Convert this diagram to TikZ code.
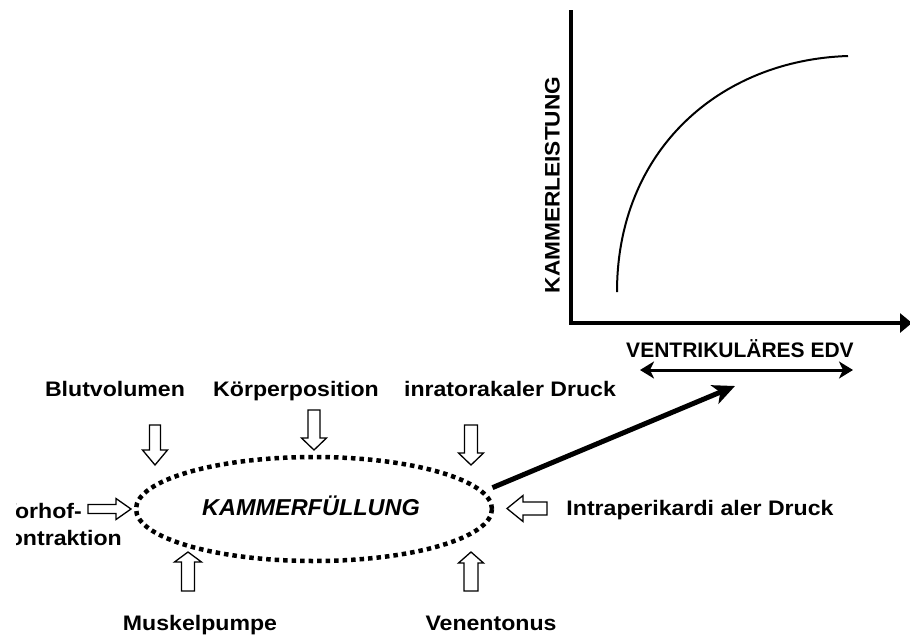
\documentclass[tikz,border=0pt]{standalone}
\usepackage{fontspec}
\setmainfont{Liberation Sans}
\usetikzlibrary{shapes.geometric,arrows.meta}
\newcommand\blockarr[6]{\draw[blockst,shift={(#1)},rotate=#2] (0,-#5) -- (#3-#4,-#5) -- (#3-#4,-#6) -- (#3,0) -- (#3-#4,#6) -- (#3-#4,#5) -- (0,#5) -- cycle;}
\begin{document}
\begin{tikzpicture}[x=1pt,y=-1pt,
  lbl/.style={font=\bfseries\fontsize{21}{25}\selectfont, inner sep=0pt, anchor=base, xscale=1.1},
  axlbl/.style={font=\bfseries\fontsize{21}{25}\selectfont, inner sep=0pt},
  blockst/.style={draw=black, line width=1.3pt, fill=white, line join=miter},
  dotline/.style={draw=black, line width=4.5pt, dash pattern=on 4.5pt off 4pt},
  bigarrow/.style={line width=5pt, -{Stealth[length=22pt,width=20pt,inset=6pt]}},
  axisline/.style={line width=4pt, line join=miter, -{Triangle[length=12pt,width=19pt]}},
  rangearrow/.style={line width=3pt, {Stealth[length=14pt,width=17pt,inset=4pt]}-{Stealth[length=14pt,width=17pt,inset=4pt]}}
]
\useasboundingbox (0,0) rectangle (910,635);
\clip (0,0) rectangle (910,635);

% graph
\coordinate (ytop) at (571,10);
\coordinate (orig) at (571,323);
\coordinate (xend) at (912,323);
\draw[axisline] (ytop) -- (orig) -- (xend);
\coordinate (cstart) at (617,292);
\coordinate (cend) at (848,56);
\draw[line width=2pt] (cstart) .. controls (617,150) and (720,60) .. (cend);
\node[axlbl, rotate=90, xscale=1.08] (yl) at (552.5,185) {KAMMERLEISTUNG};
\node[axlbl, anchor=base] (xl) at (740,357) {VENTRIKULÄRES EDV};
\coordinate (edvL) at (640,370);
\coordinate (edvR) at (853,370);
\draw[rangearrow] (edvL) -- (edvR);

% ellipse
\node[ellipse, dotline, minimum width=356pt, minimum height=104pt, inner sep=0pt] (kf) at (314,509) {};
\node[font=\bfseries\itshape\fontsize{23}{27}\selectfont, inner sep=0pt, anchor=base, xscale=1.02] (kft) at (311,515) {KAMMERFÜLLUNG};
\coordinate (edvtip) at (735,386);
\draw[bigarrow, shorten <=9pt] (kf.6) -- (edvtip);

% labels
\node[lbl] (blut) at (115,396) {Blutvolumen};
\node[lbl] (koerper) at (296,396) {Körperposition};
\node[lbl] (intrat) at (510,396) {inratorakaler Druck};
\node[lbl] (intrap) at (700,515) {Intraperikardi aler Druck};
\node[lbl] (muskel) at (200,630) {Muskelpumpe};
\node[lbl] (venen) at (491,630) {Venentonus};
\begin{scope}
\clip (16.5,480) rectangle (200,560);
\node[lbl, anchor=base east] (vorhof) at (82,518) {Vorhof-};
\node[lbl, anchor=base east] (kontr) at (122,545) {Kontraktion};
\end{scope}

% block arrows
\blockarr{155,425}{-90}{40}{15}{5.5}{12.5}
\blockarr{314,410}{-90}{40}{12}{6}{12.5}
\blockarr{471,425}{-90}{40}{12}{6.5}{12.5}
\blockarr{88,509}{0}{43}{15}{4.5}{10.5}
\blockarr{547,508.5}{180}{40}{16}{6.5}{13}
\blockarr{188,591}{90}{39}{10}{6.5}{13.5}
\blockarr{471,591}{90}{39}{11}{7}{12.5}
\end{tikzpicture}
\end{document}
